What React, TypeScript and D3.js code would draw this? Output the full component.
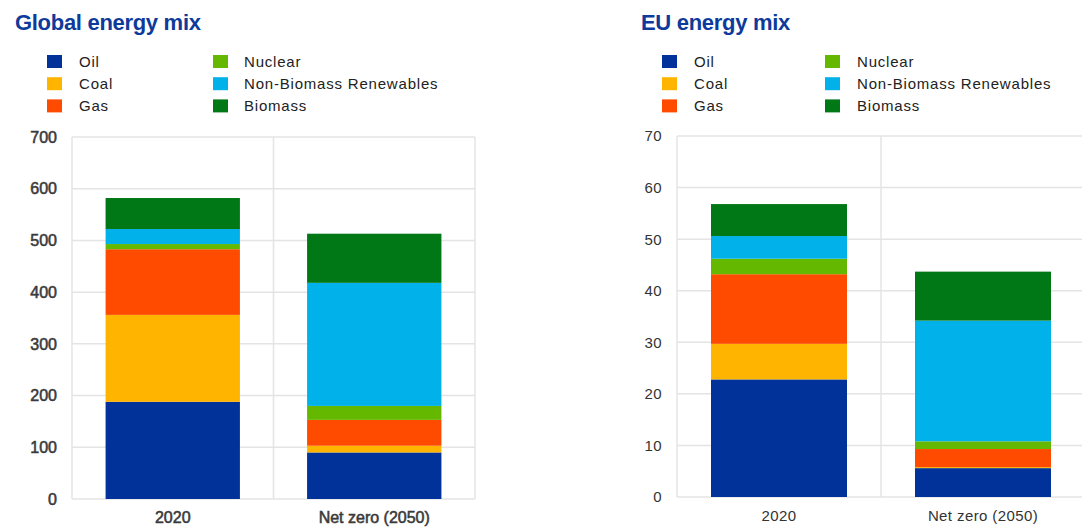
import React from "react";
import * as d3 from "d3";

const categories = ["2020", "Net zero (2050)"];
const seriesNames = ["Oil", "Coal", "Gas", "Nuclear", "Non-Biomass Renewables", "Biomass"];
const seriesColors = ["#003299", "#ffb400", "#ff4b00", "#65b800", "#00b1ea", "#007816"];

// values per category, in series order
const global2020 = [188, 168, 127, 10, 29, 60];
const globalNetZero = [90, 13, 50, 27, 238, 95];
const eu2020 = [22.8, 6.9, 13.5, 3.0, 4.4, 6.2];
const euNetZero = [5.6, 0.2, 3.5, 1.5, 23.4, 9.5];

const globalTicks = [0, 100, 200, 300, 400, 500, 600, 700];
const euTicks = [0, 10, 20, 30, 40, 50, 60, 70];

type PanelProps = {
  title: string;
  titleX: number;
  values: number[][];
  ticks: number[];
  yMax: number;
  left: number;
  right: number;
  top: number;
  bottom: number;
  legendX: number[];
  tickBold: boolean;
  xLabelY: number;
};

function Panel(p: PanelProps) {
  const x = d3.scaleBand<string>().domain(categories).range([p.left, p.right]).paddingInner(1 / 3).paddingOuter(1 / 6);
  const y = d3.scaleLinear().domain([0, p.yMax]).range([p.bottom, p.top]);
  const rows = categories.map((c, i) => {
    const o: any = { cat: c };
    seriesNames.forEach((s, j) => (o[s] = p.values[i][j]));
    return o;
  });
  const stack = d3.stack<any>().keys(seriesNames)(rows);
  const grid = "#e4e4e4";
  const tickFont = p.tickBold
    ? { fontWeight: 400, fill: "#3a3a3a", stroke: "#3a3a3a", strokeWidth: 0.55, fontSize: 16, letterSpacing: 0 }
    : { fontWeight: 400, fill: "#333", fontSize: 15, letterSpacing: 0.4 };
  const step = x.step();
  return (
    <g>
      <text x={p.titleX} y={30} fontFamily="Liberation Sans, Arial, sans-serif" fontWeight={700} fontSize={22} fill="#0d3a9b" letterSpacing={-0.3}>
        {p.title}
      </text>
      {seriesNames.map((s, i) => {
        const col = Math.floor(i / 3);
        const row = i % 3;
        const cy = 61.5 + row * 22.2;
        return (
          <g key={s}>
            <rect x={p.legendX[col * 2]} y={cy - 6.5} width={15} height={13} fill={seriesColors[i]} />
            <text x={p.legendX[col * 2 + 1]} y={cy} dy="0.35em" fontFamily="Liberation Sans, Arial, sans-serif" fontSize={15} fill="#222" letterSpacing={0.8}>
              {s}
            </text>
          </g>
        );
      })}
      {p.ticks.map((t) => (
        <line key={"h" + t} x1={p.left} x2={p.right} y1={y(t)} y2={y(t)} stroke={grid} strokeWidth={1.5} />
      ))}
      {[0, 1, 2].map((k) => (
        <line key={"v" + k} x1={p.left + k * step} x2={p.left + k * step} y1={y(p.yMax)} y2={y(0)} stroke={grid} strokeWidth={1.5} />
      ))}
      {stack.map((layer, i) => (
        <g key={seriesNames[i]} fill={seriesColors[i]}>
          {layer.map((d: any) => (
            <rect key={d.data.cat} x={x(d.data.cat)} width={x.bandwidth()} y={y(d[1])} height={Math.max(0, y(d[0]) - y(d[1]))} />
          ))}
        </g>
      ))}
      {p.ticks.map((t) => (
        <text key={"t" + t} x={p.left - 15} y={y(t)} dy="0.36em" textAnchor="end" fontFamily="Liberation Sans, Arial, sans-serif" {...tickFont}>
          {t}
        </text>
      ))}
      {categories.map((c) => (
        <text key={c} x={(x(c) as number) + x.bandwidth() / 2} y={p.xLabelY} textAnchor="middle" fontFamily="Liberation Sans, Arial, sans-serif" {...tickFont}>
          {c}
        </text>
      ))}
    </g>
  );
}

export default function App() {
  return (
    <svg width={1082} height={527} style={{ position: "absolute", left: 0, top: 0, background: "#fff" }}>
      <rect width={1082} height={527} fill="#fff" />
      <Panel
        title="Global energy mix"
        titleX={15}
        values={[global2020, globalNetZero]}
        ticks={globalTicks}
        yMax={700}
        left={72}
        right={475}
        top={137}
        bottom={499}
        legendX={[47, 79, 213, 244]}
        tickBold={true}
        xLabelY={523}
      />
      <Panel
        title="EU energy mix"
        titleX={641}
        values={[eu2020, euNetZero]}
        ticks={euTicks}
        yMax={70}
        left={677}
        right={1085}
        top={136}
        bottom={497}
        legendX={[662, 694, 825, 857]}
        tickBold={false}
        xLabelY={521}
      />
    </svg>
  );
}
